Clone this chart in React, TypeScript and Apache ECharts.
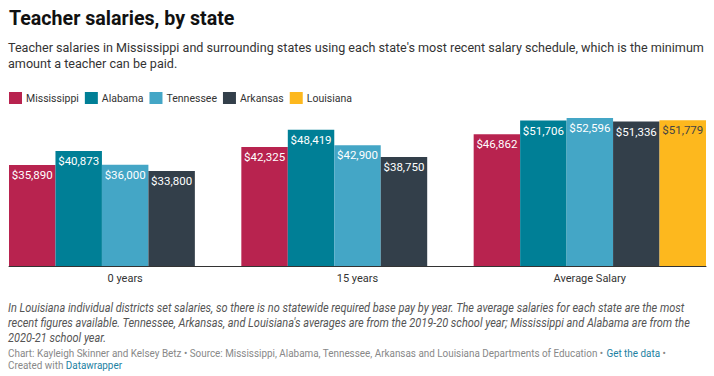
import React, { useEffect, useRef } from "react";
import * as echarts from "echarts";

const categories = ["0 years", "15 years", "Average Salary"];
const states = ["Mississippi", "Alabama", "Tennessee", "Arkansas", "Louisiana"];
const stateColors = ["#b8234f", "#007f96", "#44a6c6", "#333f4a", "#fdb81e"];
const mississippi = [35890, 42325, 46862];
const alabama = [40873, 48419, 51706];
const tennessee = [36000, 42900, 52596];
const arkansas = [33800, 38750, 51336];
const louisiana = [null, null, 51779];
const seriesValues = [mississippi, alabama, tennessee, arkansas, louisiana];

const titleText = "Teacher salaries, by state";
const subtitleLines = [
  "Teacher salaries in Mississippi and surrounding states using each state's most recent salary schedule, which is the minimum",
  "amount a teacher can be paid.",
];
const noteLines = [
  "In Louisiana individual districts set salaries, so there is no statewide required base pay by year. The average salaries for each state are the most",
  "recent figures available. Tennessee, Arkansas, and Louisiana's averages are from the 2019-20 school year; Mississippi and Alabama are from the",
  "2020-21 school year.",
];
const creditLines = [
  "Chart: Kayleigh Skinner and Kelsey Betz • Source: Mississippi, Alabama, Tennessee, Arkansas and Louisiana Departments of Education • {a|Get the data} •",
  "Created with {a|Datawrapper}",
];

const fmt = (v: number) => "$" + v.toLocaleString("en-US");

export default function App() {
  const ref = useRef<HTMLDivElement>(null);
  useEffect(() => {
    const chart = echarts.init(ref.current!, null, { renderer: "svg" });
    const font = "Roboto";
    const graphic: any[] = [
      {
        type: "text",
        x: 9,
        y: 18,
        scaleX: 0.935,
        style: { text: titleText, font: "bold 21px Roboto", fill: "#111", verticalAlign: "middle" },
      },
      ...subtitleLines.map((t, i) => ({
        type: "text",
        x: 8,
        y: 47 + i * 16,
        scaleX: 0.94,
        style: { text: t, font: "13.4px Roboto", fill: "#333", verticalAlign: "middle" },
      })),
      ...noteLines.map((t, i) => ({
        type: "text",
        x: 8,
        y: 308 + i * 15,
        scaleX: 0.915,
        style: { text: t, font: "italic 12px Roboto", fill: "#555", verticalAlign: "middle" },
      })),
      ...creditLines.map((t, i) => ({
        type: "text",
        x: 8,
        y: 353 + i * 12,
        scaleX: 0.9,
        style: {
          text: t,
          font: "11px Roboto",
          fill: "#888",
          verticalAlign: "middle",
          rich: { a: { fill: "#1d81a2", font: "11px Roboto" } },
        },
      })),
    ];
    chart.setOption({
      animation: false,
      textStyle: { fontFamily: font },
      graphic,
      legend: {
        left: 4,
        top: 87,
        icon: "rect",
        itemWidth: 13,
        itemHeight: 12,
        itemGap: 6,
        selectedMode: false,
        textStyle: { fontSize: 10.5, color: "#333", fontFamily: font, padding: [0, 0, 0, -1] },
        data: states,
      },
      grid: { left: 9, right: 8, top: 118, bottom: 110 },
      xAxis: {
        type: "category",
        data: categories,
        axisLine: { lineStyle: { color: "#333", width: 1 } },
        axisTick: { show: false },
        axisLabel: { color: "#333", fontSize: 11, margin: 7 },
      },
      yAxis: { type: "value", min: 0, max: 52596, show: false, splitLine: { show: false } },
      series: states.map((name, i) => ({
        type: "bar",
        name,
        data: seriesValues[i],
        barGap: "0%",
        barCategoryGap: "0%",
        itemStyle: { color: stateColors[i] },
        label: {
          show: true,
          position: "insideTop",
          distance: 4,
          fontSize: 11.5,
          color: i === 4 ? "#444" : "#fff",
          formatter: (p: any) => fmt(p.value),
        },
      })),
    });
    return () => chart.dispose();
  }, []);
  return <div ref={ref} style={{ position: "fixed", left: 0, top: 0, width: 714, height: 376, background: "#fff" }} />;
}
